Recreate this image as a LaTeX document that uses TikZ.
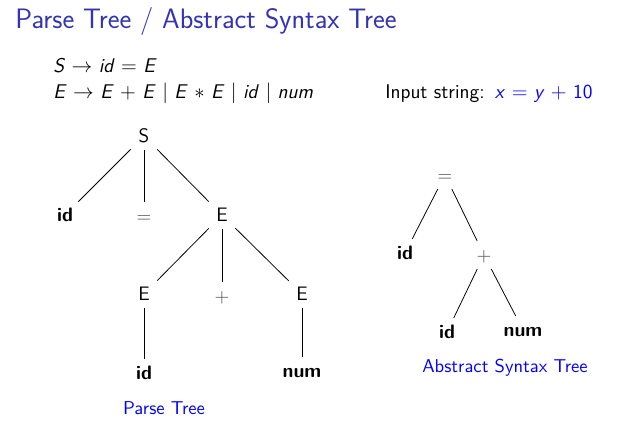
\documentclass[tikz,border=0pt]{standalone}
\usepackage{tikz}
\definecolor{titleblue}{RGB}{51,51,179}
\newcommand{\mvar}[1]{\textit{#1}}
\begin{document}
\begin{tikzpicture}[x=0.58pt,y=-0.58pt,
  tn/.style={font=\fontsize{11.3}{13}\sffamily, inner xsep=2pt, inner ysep=4pt,
    text height=7.8pt, text depth=0pt, minimum width=15pt},
  leaf/.style={tn, font=\fontsize{11.3}{13}\sffamily\bfseries},
  sym/.style={tn, text=black!68},
  edge/.style={draw=black, line width=0.45pt},
  caption/.style={font=\fontsize{10.8}{12}\sffamily, text=blue, inner sep=0pt},
  body/.style={font=\fontsize{11.5}{13}\sffamily, anchor=base west, inner sep=0pt}]
\useasboundingbox (0,0) rectangle (628,429);
% title
\node[anchor=base west, inner sep=0pt, font=\fontsize{16.3}{19}\sffamily, text=titleblue] (title) at (15,29) {Parse Tree / Abstract Syntax Tree};
% grammar
\node[body] (g1) at (53,73) {\mvar{S} $\rightarrow$ \mvar{id} $=$ \mvar{E}};
\node[body] (g2) at (53,98) {\mvar{E} $\rightarrow$ \mvar{E} $+$ \mvar{E} $\mid$ \mvar{E} $*$ \mvar{E} $\mid$ \mvar{id} $\mid$ \mvar{num}};
\node[body] (inp) at (385,98) {Input string:\hspace{6pt}\textcolor{blue}{\mvar{x} $=$ \mvar{y} $+$ 10}};
% parse tree
\node[tn] (S) at (144,136) {S};
\node[leaf] (id1) at (65,215) {id};
\node[sym] (eq1) at (144,216) {$=$};
\node[tn] (E1) at (222,215) {E};
\node[tn] (E2) at (144,294) {E};
\node[sym] (plus1) at (222,296) {$+$};
\node[tn] (E3) at (302,294) {E};
\node[leaf] (id2) at (144,373) {id};
\node[leaf] (num1) at (302,371) {num};
\node[caption] (cap1) at (164,408) {Parse Tree};
\draw[edge] (S) -- (id1);
\draw[edge] (S) -- (eq1);
\draw[edge] (S) -- (E1);
\draw[edge] (E1) -- (E2);
\draw[edge] (E1) -- (plus1);
\draw[edge] (E1) -- (E3);
\draw[edge] (E2) -- (id2);
\draw[edge] (E3) -- (num1);
% abstract syntax tree
\node[sym] (eq2) at (445,175) {$=$};
\node[leaf] (id3) at (405,253) {id};
\node[sym] (plus2) at (484,255) {$+$};
\node[leaf] (id4) at (447,332) {id};
\node[leaf] (num2) at (523,330) {num};
\node[caption] (cap2) at (505,368) {Abstract Syntax Tree};
\draw[edge] (eq2) -- (id3);
\draw[edge] (eq2) -- (plus2);
\draw[edge] (plus2) -- (id4);
\draw[edge] (plus2) -- (num2);
\end{tikzpicture}
\end{document}
